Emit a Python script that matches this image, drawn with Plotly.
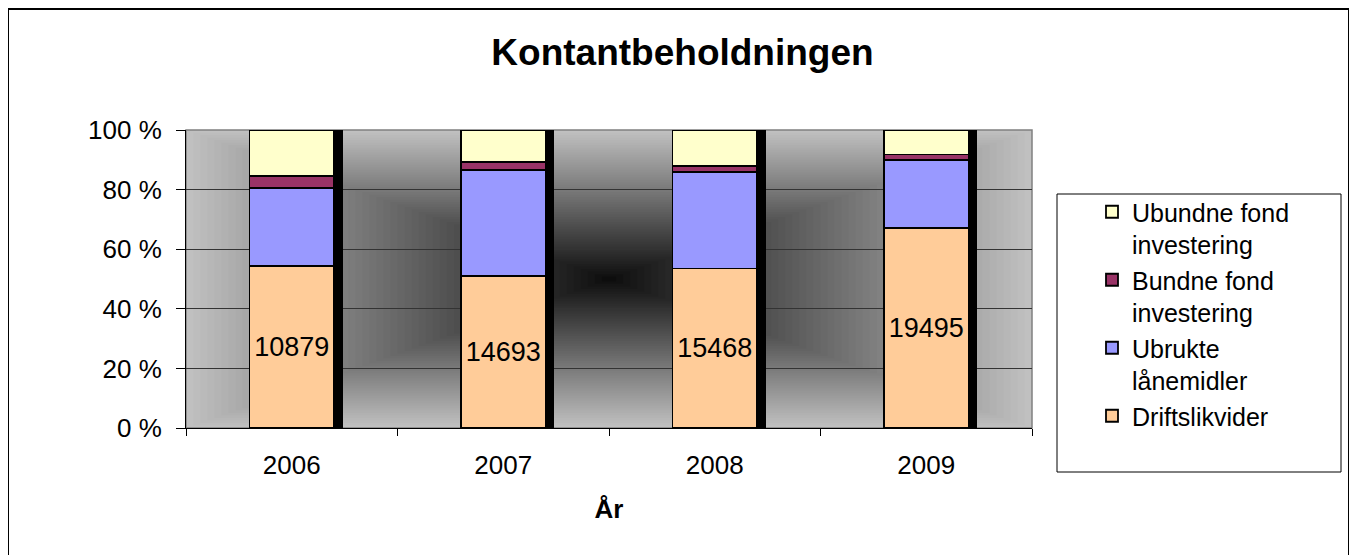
import plotly.graph_objects as go

# ---- data ----
years = ["2006", "2007", "2008", "2009"]
driftslikvider = [10879, 14693, 15468, 19495]
ubrukte_lanemidler = [5230, 10276, 9367, 6586]
bundne_fond = [820, 808, 578, 551]
ubundne_fond = [3105, 3089, 3498, 2379]

series_names = ["Driftslikvider", "Ubrukte<br>lånemidler", "Bundne fond<br>investering", "Ubundne fond<br>investering"]
series_values = [driftslikvider, ubrukte_lanemidler, bundne_fond, ubundne_fond]
series_colors = ["#FFCC99", "#9999FF", "#993366", "#FFFFCC"]

totals = [a + b + c + d for a, b, c, d in zip(driftslikvider, ubrukte_lanemidler, bundne_fond, ubundne_fond)]

FONT = "Liberation Sans, Arial, sans-serif"

# layout geometry (figure pixels; page has an 8px body margin)
W, H = 1349, 547
L, R, T, B = 178, 325, 122, 127
PW, PH = W - L - R, H - T - B


def px_x(x):
    return (x - L) / PW


def px_y(y):
    return (H - B - y) / PH


fig = go.Figure()

# shadow bars (3D-like offset) on the base axes
fig.add_trace(go.Bar(
    x=years, y=totals, xaxis="x", yaxis="y",
    marker=dict(color="black", line=dict(width=0)),
    width=0.4, offset=-0.16, showlegend=False, hoverinfo="skip",
))

# stacked bars on overlaying axis
for name, vals, col in zip(series_names, series_values, series_colors):
    kw = {}
    if name == "Driftslikvider":
        kw = dict(text=[str(v) for v in vals], textposition="inside",
                  insidetextanchor="middle", constraintext="none",
                  textfont=dict(family=FONT, size=27, color="black"))
    fig.add_trace(go.Bar(
        x=years, y=vals, name=name, xaxis="x", yaxis="y2",
        marker=dict(color=col, line=dict(color="black", width=1.8)),
        width=0.4, **kw,
    ))

# background gradient (rectangular, dark at center)
shapes = []
N = 60
prev = 192.0


def tone(s):
    return 15 + 177 * (s ** 0.8)


for k in range(1, N):
    s = 1 - k / N
    target = tone(s)
    a = 1 - target / prev
    prev = target
    shapes.append(dict(type="rect", xref="paper", yref="paper",
                       x0=0.5 - 0.5 * s, x1=0.5 + 0.5 * s,
                       y0=0.5 - 0.5 * s, y1=0.5 + 0.5 * s,
                       fillcolor="black", opacity=a, line=dict(width=0),
                       layer="below"))

# plot area border (gray)
shapes.append(dict(type="rect", xref="paper", yref="paper", x0=0, x1=1, y0=0, y1=1,
                   line=dict(color="#808080", width=1.5), layer="below"))
# outer chart frame
shapes.append(dict(type="rect", xref="paper", yref="paper",
                   x0=px_x(0), x1=px_x(1341), y0=px_y(H + 20), y1=px_y(1),
                   line=dict(color="black", width=2), layer="above"))
# legend box
shapes.append(dict(type="rect", xref="paper", yref="paper",
                   x0=px_x(1049), x1=px_x(1333), y0=px_y(464), y1=px_y(186),
                   line=dict(color="black", width=1), fillcolor="white", layer="above"))

fig.update_layout(
    width=W, height=H,
    margin=dict(l=L, r=R, t=T, b=B),
    paper_bgcolor="white",
    plot_bgcolor="#C0C0C0",
    barmode="stack",
    barnorm="percent",
    font=dict(family=FONT, size=25, color="black"),
    title=dict(text="<b>Kontantbeholdningen</b>", x=0.5, xref="container",
               y=1 - 44 / H, yref="container", xanchor="center", yanchor="middle",
               font=dict(family=FONT, size=37, color="black")),
    xaxis=dict(
        type="category", showgrid=False, showline=True, linecolor="black", linewidth=1,
        ticks="outside", ticklen=7, tickcolor="black", tickson="boundaries",
        tickfont=dict(family=FONT, size=26, color="black"), ticklabelstandoff=14,
        title=dict(text="<b>År</b>", font=dict(family=FONT, size=26, color="black"), standoff=20),
        zeroline=False,
    ),
    yaxis=dict(
        range=[0, 100], dtick=20, ticksuffix=" %", showgrid=True, gridcolor="#333333", gridwidth=1,
        showline=True, linecolor="black", linewidth=1, ticks="outside", ticklen=9, tickcolor="black",
        tickfont=dict(family=FONT, size=26, color="black"), ticklabelstandoff=9, zeroline=False,
    ),
    yaxis2=dict(range=[0, 100], overlaying="y", visible=False, showgrid=False),
    legend=dict(
        x=px_x(1084), y=px_y(181), xanchor="left", yanchor="top",
        traceorder="reversed", valign="top", bgcolor="rgba(0,0,0,0)", borderwidth=0,
        font=dict(family=FONT, size=25, color="black"), itemclick=False,
    ),
    shapes=shapes,
    showlegend=True,
)

fig.write_html("out.html")
